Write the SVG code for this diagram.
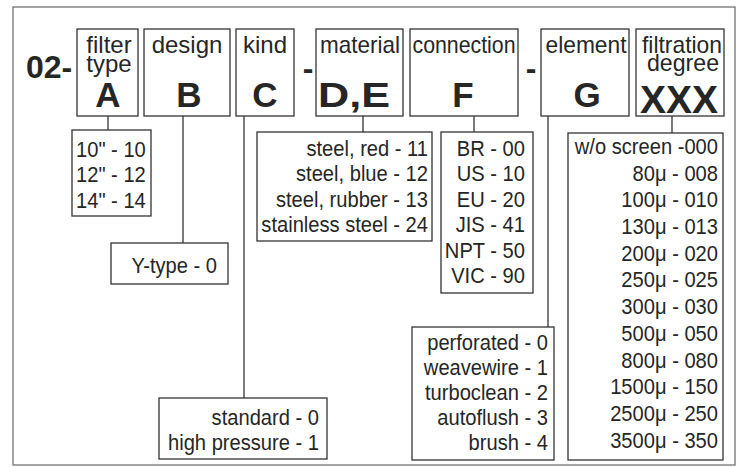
<svg xmlns="http://www.w3.org/2000/svg" width="740" height="467" viewBox="0 0 740 467">
<style>
.box{fill:none;stroke:#333;stroke-width:1.3}
.frame{fill:none;stroke:#666;stroke-width:1.2}
.con line{stroke:#333;stroke-width:1.3}
text{font-family:"Liberation Sans",Arial,sans-serif;fill:#262626}
.hd{font-size:24px;text-anchor:middle}
.big{font-size:35px;font-weight:bold;text-anchor:middle}
.opt{font-size:22px}
.end{text-anchor:end}
</style>
<rect width="740" height="467" fill="#fff"/>
<rect class="frame" x="13" y="7" width="722" height="458"/>
<text x="26" y="78" style="font-size:32px;font-weight:bold">02-</text>
<text x="308" y="79" style="font-size:32px;font-weight:bold;text-anchor:middle">-</text>
<text x="531" y="79" style="font-size:32px;font-weight:bold;text-anchor:middle">-</text>

<g id="hdr-a">
<rect class="box" x="77" y="29" width="61" height="87"/>
<text class="hd" x="109" y="53">filter</text>
<text class="hd" x="109" y="72">type</text>
<text class="big" x="108" y="107">A</text>
</g>
<g id="hdr-b">
<rect class="box" x="144" y="29" width="86" height="87"/>
<text class="hd" x="187" y="53">design</text>
<text class="big" x="189" y="107">B</text>
</g>
<g id="hdr-c">
<rect class="box" x="236" y="29" width="58" height="87"/>
<text class="hd" x="265" y="53">kind</text>
<text class="big" x="265" y="107">C</text>
</g>
<g id="hdr-de">
<rect class="box" x="316" y="29" width="87" height="87"/>
<text class="hd" x="360" y="53" textLength="80" lengthAdjust="spacingAndGlyphs">material</text>
<text x="318" y="107" style="font-size:35px;font-weight:bold" textLength="72" lengthAdjust="spacingAndGlyphs">D,E</text>
</g>
<g id="hdr-f">
<rect class="box" x="410" y="29" width="108" height="87"/>
<text class="hd" x="464" y="53" textLength="103" lengthAdjust="spacingAndGlyphs">connection</text>
<text class="big" x="463" y="107">F</text>
</g>
<g id="hdr-g">
<rect class="box" x="541" y="29" width="88" height="87"/>
<text class="hd" x="586" y="53" textLength="81" lengthAdjust="spacingAndGlyphs">element</text>
<text class="big" x="587" y="107">G</text>
</g>
<g id="hdr-xxx">
<rect class="box" x="636" y="29" width="88" height="87"/>
<text class="hd" x="682" y="53" textLength="80" lengthAdjust="spacingAndGlyphs">filtration</text>
<text class="hd" x="683" y="71" textLength="72" lengthAdjust="spacingAndGlyphs">degree</text>
<text x="679" y="113" style="font-size:39px;font-weight:bold;text-anchor:middle">XXX</text>
</g>

<g id="connectors" class="con">
<line x1="108" y1="116" x2="108" y2="130"/>
<line x1="183" y1="116" x2="183" y2="243"/>
<line x1="244" y1="116" x2="244" y2="398"/>
<line x1="363" y1="116" x2="363" y2="132"/>
<line x1="474" y1="116" x2="474" y2="132"/>
<line x1="548" y1="116" x2="548" y2="327"/>
<line x1="672" y1="116" x2="672" y2="133"/>
</g>

<g id="opt-a">
<rect class="box" x="72" y="130" width="79" height="86"/>
<g transform="translate(76 0) scale(0.915 1)">
<text class="opt" x="0" y="157">10" - 10</text>
<text class="opt" x="0" y="182.5">12" - 12</text>
<text class="opt" x="0" y="208">14" - 14</text>
</g>
</g>
<g id="opt-b">
<rect class="box" x="111" y="243" width="117" height="41"/>
<g transform="translate(217 0) scale(0.915 1)">
<text class="opt end" x="0" y="273">Y-type - 0</text>
</g>
</g>
<g id="opt-c">
<rect class="box" x="159" y="398" width="168" height="61"/>
<g transform="translate(319 0) scale(0.915 1)">
<text class="opt end" x="0" y="425">standard - 0</text>
<text class="opt end" x="0" y="450">high pressure - 1</text>
</g>
</g>
<g id="opt-de">
<rect class="box" x="257" y="132" width="175" height="109"/>
<g transform="translate(428 0) scale(0.915 1)">
<text class="opt end" x="0" y="156">steel, red - 11</text>
<text class="opt end" x="0" y="181.5">steel, blue - 12</text>
<text class="opt end" x="0" y="207">steel, rubber - 13</text>
<text class="opt end" x="0" y="232.5">stainless steel - 24</text>
</g>
</g>
<g id="opt-f">
<rect class="box" x="441" y="132" width="92" height="161"/>
<g transform="translate(525 0) scale(0.915 1)">
<text class="opt end" x="0" y="156">BR - 00</text>
<text class="opt end" x="0" y="181.5">US - 10</text>
<text class="opt end" x="0" y="207">EU - 20</text>
<text class="opt end" x="0" y="232.5">JIS - 41</text>
<text class="opt end" x="0" y="258">NPT - 50</text>
<text class="opt end" x="0" y="283.5">VIC - 90</text>
</g>
</g>
<g id="opt-g">
<rect class="box" x="412" y="327" width="142" height="133"/>
<g transform="translate(548 0) scale(0.915 1)">
<text class="opt end" x="0" y="350">perforated - 0</text>
<text class="opt end" x="0" y="375">weavewire - 1</text>
<text class="opt end" x="0" y="400">turboclean - 2</text>
<text class="opt end" x="0" y="425">autoflush - 3</text>
<text class="opt end" x="0" y="450">brush - 4</text>
</g>
</g>
<g id="opt-xxx">
<rect class="box" x="568" y="133" width="155" height="327"/>
<g transform="translate(718 0) scale(0.915 1)">
<text class="opt end" x="0" y="154">w/o screen -000</text>
<text class="opt end" x="0" y="180.7">80μ - 008</text>
<text class="opt end" x="0" y="207.4">100μ - 010</text>
<text class="opt end" x="0" y="234.1">130μ - 013</text>
<text class="opt end" x="0" y="260.8">200μ - 020</text>
<text class="opt end" x="0" y="287.5">250μ - 025</text>
<text class="opt end" x="0" y="314.2">300μ - 030</text>
<text class="opt end" x="0" y="340.9">500μ - 050</text>
<text class="opt end" x="0" y="367.6">800μ - 080</text>
<text class="opt end" x="0" y="394.3">1500μ - 150</text>
<text class="opt end" x="0" y="421">2500μ - 250</text>
<text class="opt end" x="0" y="447.7">3500μ - 350</text>
</g>
</g>
</svg>
